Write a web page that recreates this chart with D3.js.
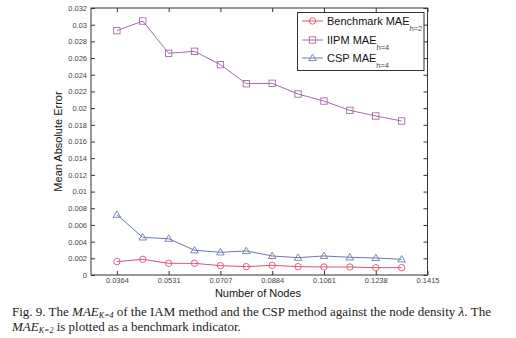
<!DOCTYPE html>
<html><head><meta charset="utf-8">
<script src="https://cdn.jsdelivr.net/npm/d3@7"></script>
<style>body{margin:0;background:#fff}svg{display:block}</style>
</head><body>
<script>
const pointIndex = [0,1,2,3,4,5,6,7,8,9,10,11];
const xTickIndex = [0,2,4,6,8,10,12];
const xTickLabels = ["0.0364","0.0531","0.0707","0.0884","0.1061","0.1238","0.1415"];
const yTicks = [0,0.002,0.004,0.006,0.008,0.01,0.012,0.014,0.016,0.018,0.02,0.022,0.024,0.026,0.028,0.03,0.032];
const benchmark = [0.0016,0.00188,0.0014,0.0014,0.00112,0.001,0.00116,0.001,0.00096,0.00096,0.00088,0.00088];
const iipm = [0.02928,0.03044,0.02657,0.02681,0.02521,0.02293,0.02297,0.02169,0.02085,0.01973,0.01906,0.01846];
const csp = [0.00723,0.00451,0.00435,0.00296,0.00272,0.00288,0.00228,0.00208,0.00228,0.00212,0.00204,0.00188];
const seriesNames = ["Benchmark MAE","IIPM MAE","CSP MAE"];
const seriesSubs = ["h=2","h=4","h=4"];

const W=516,H=338;
const svg=d3.select("body").append("svg").attr("width",W).attr("height",H);
const L=91,R=427.5,T=8,B=275;
const x=d3.scaleLinear().domain([-1,12]).range([L,R]);
const y=d3.scaleLinear().domain([0,0.032]).range([B,T]);
const tickFont="Liberation Sans, Arial, sans-serif";

// box
svg.append("rect").attr("x",L).attr("y",T).attr("width",R-L).attr("height",B-T)
  .attr("fill","none").attr("stroke","#333").attr("stroke-width",1);

const gx=svg.append("g").attr("transform",`translate(0,${B})`)
  .call(d3.axisBottom(x).tickValues(xTickIndex).tickFormat((d,i)=>xTickLabels[i]).tickSizeInner(-4).tickSizeOuter(0).tickPadding(3));
const gy=svg.append("g").attr("transform",`translate(${L},0)`)
  .call(d3.axisLeft(y).tickValues(yTicks).tickFormat(d=>d===0?"0":d3.format("")(+d.toFixed(3))).tickSizeInner(-4).tickSizeOuter(0).tickPadding(4));
const gxt=svg.append("g").attr("transform",`translate(0,${T})`)
  .call(d3.axisTop(x).tickValues(xTickIndex).tickFormat("").tickSizeInner(-4).tickSizeOuter(0));
const gyr=svg.append("g").attr("transform",`translate(${R},0)`)
  .call(d3.axisRight(y).tickValues(yTicks).tickFormat("").tickSizeInner(-4).tickSizeOuter(0));
[gx,gy,gxt,gyr].forEach(g=>{
  g.select(".domain").remove();
  g.selectAll("line").attr("stroke","#333");
  g.selectAll("text").attr("fill","#444").style("font-family",tickFont).style("font-size","7.5px");
});

const colors=["#e0506e","#a46aa8","#6a78b0"];
const data=[benchmark,iipm,csp];
const line=d3.line().x((d,i)=>x(pointIndex[i])).y(d=>y(d));

function marker(g,type,cx,cy,col){
  if(type===0) g.append("circle").attr("cx",cx).attr("cy",cy).attr("r",3.2).attr("fill","none").attr("stroke",col).attr("stroke-width",0.9);
  else if(type===1) g.append("rect").attr("x",cx-3.2).attr("y",cy-3.2).attr("width",6.4).attr("height",6.4).attr("fill","none").attr("stroke",col).attr("stroke-width",0.9);
  else g.append("path").attr("d",`M${cx},${cy-3.8}L${cx+3.8},${cy+2.6}L${cx-3.8},${cy+2.6}Z`).attr("fill","none").attr("stroke",col).attr("stroke-width",0.9);
}

data.forEach((s,k)=>{
  svg.append("path").datum(s).attr("d",line).attr("fill","none").attr("stroke",colors[k]).attr("stroke-width",1);
  const g=svg.append("g");
  s.forEach((d,i)=>marker(g,k,x(pointIndex[i]),y(d),colors[k]));
});

// legend
const lg=svg.append("g");
lg.append("rect").attr("x",297.5).attr("y",12.5).attr("width",126.5).attr("height",58).attr("fill","#fff").attr("stroke","#333").attr("stroke-width",1);
const rows=[21,40,58];
rows.forEach((ry,k)=>{
  lg.append("line").attr("x1",302).attr("x2",323).attr("y1",ry).attr("y2",ry).attr("stroke",colors[k]).attr("stroke-width",1);
  marker(lg,k,312.5,ry,colors[k]);
  const t=lg.append("text").attr("x",327).attr("y",ry+4).style("font-family",tickFont).style("font-size","11px").attr("fill","#111");
  t.append("tspan").text(seriesNames[k]);
  t.append("tspan").attr("dy",6).style("font-size","7.5px").attr("fill","#444").text(seriesSubs[k]);
});

// axis titles
svg.append("text").attr("x",258).attr("y",297).attr("text-anchor","middle").style("font-family",tickFont).style("font-size","11px").attr("fill","#111").text("Number of Nodes");
svg.append("text").attr("transform",`translate(62,${(T+B)/2}) rotate(-90)`).attr("text-anchor","middle").style("font-family",tickFont).style("font-size","11px").attr("fill","#111").text("Mean Absolute Error");

// caption
const capFont="Liberation Serif, DejaVu Serif, serif";
const cs="13px";
const c1=svg.append("text").attr("x",12).attr("y",316).style("font-family",capFont).style("font-size",cs).attr("fill","#222");
c1.append("tspan").text("Fig. 9. The ");
c1.append("tspan").style("font-style","italic").text("MAE");
c1.append("tspan").style("font-style","italic").style("font-size","8px").attr("dy",2).text("K=4");
c1.append("tspan").attr("dy",-2).text(" of the IAM method and the CSP method against the node density ");
c1.append("tspan").style("font-style","italic").text("λ");
c1.append("tspan").text(". The");
const c2=svg.append("text").attr("x",12).attr("y",331).style("font-family",capFont).style("font-size",cs).attr("fill","#222");
c2.append("tspan").style("font-style","italic").text("MAE");
c2.append("tspan").style("font-style","italic").style("font-size","8px").attr("dy",2).text("K=2");
c2.append("tspan").attr("dy",-2).text(" is plotted as a benchmark indicator.");
</script>
</body></html>
